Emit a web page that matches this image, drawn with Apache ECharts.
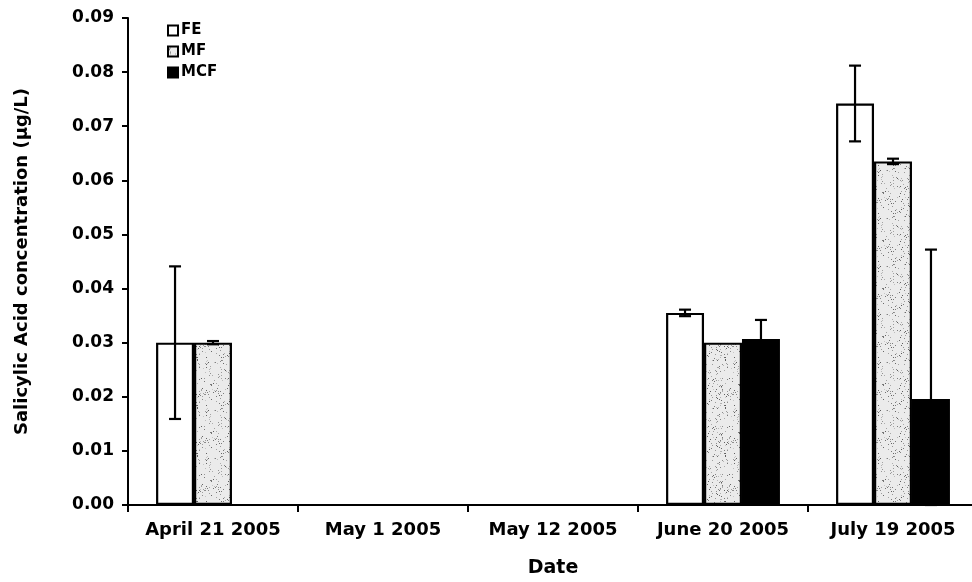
<!DOCTYPE html>
<html>
<head>
<meta charset="utf-8">
<script src="https://cdn.jsdelivr.net/npm/echarts@6/dist/echarts.min.js"></script>
<style>
  html, body { margin: 0; padding: 0; background: #fff; }
  #chart { width: 972px; height: 582px; }
</style>
</head>
<body>
<div id="chart"></div>
<script>
// Sampling dates
const dates = ['April 21 2005', 'May 1 2005', 'May 12 2005', 'June 20 2005', 'July 19 2005'];

// Mean salicylic acid concentration (µg/L) per treatment
const feValues  = [0.0300, null, null, 0.0355, 0.0742];
const mfValues  = [0.0300, null, null, 0.0300, 0.0635];
const mcfValues = [null,   null, null, 0.0307, 0.0196];

// Error bar half-widths (µg/L)
const feErrors  = [0.0141, null, null, 0.0006, 0.0070];
const mfErrors  = [0.0003, null, null, null,   0.0005];
const mcfErrors = [null,   null, null, 0.0035, 0.0276];

// Y-axis range
const yMin = 0, yMax = 0.09, yStep = 0.01;

const FONT = '"DejaVu Sans", Verdana, sans-serif';
const CATEGORY_GAP = 0.33; // fraction of each band left empty
const BARS_PER_GROUP = 3;

// Fine stipple texture for the MF bars
function stipple() {
  const c = document.createElement('canvas');
  c.width = 48; c.height = 48;
  const g = c.getContext('2d');
  g.fillStyle = '#ebebeb';
  g.fillRect(0, 0, 48, 48);
  let s = 7;
  const next = () => { s = (s * 1103515245 + 12345) & 0x7fffffff; return s / 0x7fffffff; };
  for (let i = 0; i < 190; i++) {
    const x = Math.floor(next() * 48), y = Math.floor(next() * 48);
    const shade = 90 + Math.floor(next() * 110);
    g.fillStyle = `rgb(${shade},${shade},${shade})`;
    g.fillRect(x, y, 1, 1);
  }
  return c;
}

const barSeries = [
  { name: 'FE',  data: feValues,  fill: '#ffffff' },
  { name: 'MF',  data: mfValues,  fill: { image: stipple(), repeat: 'repeat' } },
  { name: 'MCF', data: mcfValues, fill: '#000000' }
];
const errorSets = [feErrors, mfErrors, mcfErrors];

function errorSeries(idx) {
  const vals = barSeries[idx].data;
  const errs = errorSets[idx];
  const data = [];
  vals.forEach((v, i) => {
    if (v != null && errs[i] != null) {
      data.push([i, Math.max(yMin, v - errs[i]), v + errs[i]]);
    }
  });
  return {
    type: 'custom',
    name: barSeries[idx].name + ' error',
    z: 10,
    silent: true,
    clip: false,
    data: data,
    renderItem: function (params, api) {
      const cat = api.value(0);
      const band = api.size([1, 0])[0];
      const barW = band * (1 - CATEGORY_GAP) / BARS_PER_GROUP;
      const offset = (idx - (BARS_PER_GROUP - 1) / 2) * barW;
      const lo = api.coord([cat, api.value(1)]);
      const hi = api.coord([cat, api.value(2)]);
      const x = lo[0] + offset;
      const cap = 6;
      const st = { stroke: '#000', lineWidth: 2.2 };
      return {
        type: 'group',
        children: [
          { type: 'line', shape: { x1: x, y1: lo[1], x2: x, y2: hi[1] }, style: st },
          { type: 'line', shape: { x1: x - cap, y1: hi[1], x2: x + cap, y2: hi[1] }, style: st },
          { type: 'line', shape: { x1: x - cap, y1: lo[1], x2: x + cap, y2: lo[1] }, style: st }
        ]
      };
    }
  };
}

const chart = echarts.init(document.getElementById('chart'), null, { renderer: 'canvas' });

chart.setOption({
  animation: false,
  backgroundColor: '#ffffff',
  textStyle: { fontFamily: FONT },
  // the plot runs on past the right edge of the canvas
  grid: { left: 128, width: 850, top: 18, bottom: 77, containLabel: false, outerBoundsMode: 'none' },
  legend: {
    orient: 'vertical',
    left: 162,
    top: 18,
    itemWidth: 10,
    itemHeight: 10,
    itemGap: 6,
    icon: 'rect',
    data: ['FE', 'MF', 'MCF'],
    textStyle: { fontFamily: FONT, fontWeight: 'bold', fontSize: 15, color: '#000', padding: [0, 0, 0, -2] }
  },
  xAxis: {
    type: 'category',
    data: dates,
    name: 'Date',
    nameLocation: 'middle',
    nameGap: 54,
    nameTextStyle: { fontFamily: FONT, fontWeight: 'bold', fontSize: 19, color: '#000' },
    axisLine: { lineStyle: { color: '#000', width: 2 } },
    axisTick: { show: true, alignWithLabel: false, length: 7, lineStyle: { color: '#000', width: 2 } },
    axisLabel: { fontFamily: FONT, fontWeight: 'bold', fontSize: 18, color: '#000', margin: 16, interval: 0 },
    splitLine: { show: false }
  },
  yAxis: {
    type: 'value',
    min: yMin,
    max: yMax,
    interval: yStep,
    name: 'Salicylic Acid concentration (μg/L)',
    nameLocation: 'middle',
    nameGap: 97,
    nameRotate: 90,
    nameTextStyle: { fontFamily: FONT, fontWeight: 'bold', fontSize: 18, color: '#000' },
    axisLine: { show: true, lineStyle: { color: '#000', width: 2 } },
    axisTick: { show: true, length: 6, lineStyle: { color: '#000', width: 2 } },
    axisLabel: {
      fontFamily: FONT, fontWeight: 'bold', fontSize: 17, color: '#000', margin: 14,
      formatter: v => v.toFixed(2)
    },
    splitLine: { show: false }
  },
  series: barSeries.map((s, i) => ({
    type: 'bar',
    name: s.name,
    data: s.data,
    barGap: '0%',
    barCategoryGap: (CATEGORY_GAP * 100) + '%',
    itemStyle: { color: s.fill, borderColor: '#000', borderWidth: 2.2 },
    z: 2 + i
  })).concat([0, 1, 2].map(errorSeries))
});
</script>
</body>
</html>
